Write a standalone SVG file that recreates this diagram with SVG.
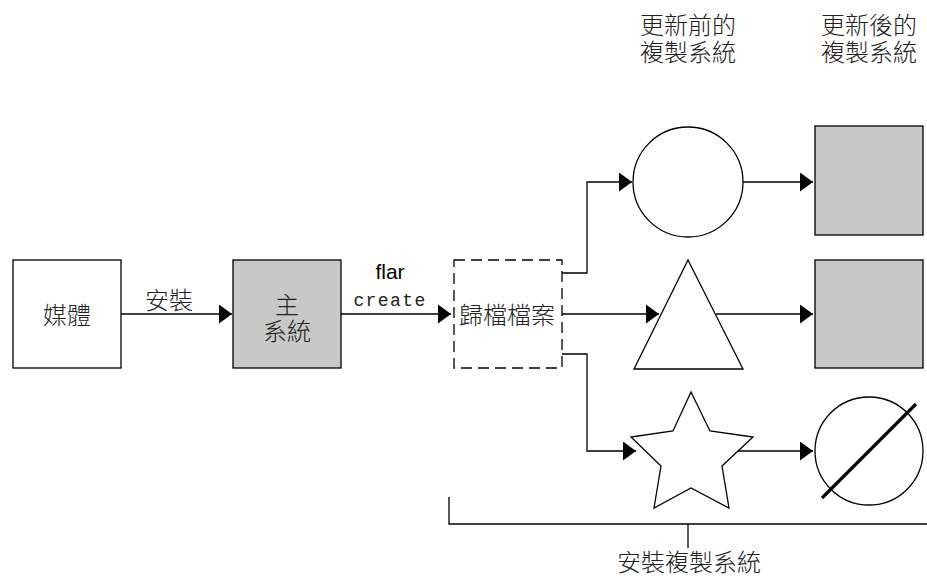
<svg xmlns="http://www.w3.org/2000/svg" width="927" height="576" viewBox="0 0 927 576">
<style>
.s{stroke:#000;stroke-width:1.3;fill:#fff}
.g{fill:#c8c8c8}
.l{stroke:#000;stroke-width:1.3;fill:none}
text{font-family:"Liberation Serif","Noto Sans CJK TC",serif;font-size:24px;font-weight:300;fill:#222;text-anchor:middle}
.flar{font-family:"Liberation Sans",sans-serif;font-size:21px;font-weight:400;fill:#000}
.cmd{font-family:"Liberation Mono",monospace;font-size:18px;letter-spacing:1.4px}
</style>
<defs><marker id="a" markerUnits="userSpaceOnUse" markerWidth="13" markerHeight="19" refX="13" refY="9.5" orient="auto"><path d="M0 0L13 9.5L0 19Z" fill="#000"/></marker></defs>
<g id="connectors">
<path class="l" marker-end="url(#a)" d="M121 314H232"/>
<path class="l" marker-end="url(#a)" d="M341 314H451"/>
<path class="l" marker-end="url(#a)" d="M562 273H587V182H632"/>
<path class="l" marker-end="url(#a)" d="M562 314H659"/>
<path class="l" marker-end="url(#a)" d="M562 354H587V451H636"/>
<path class="l" marker-end="url(#a)" d="M743 182H813"/>
<path class="l" marker-end="url(#a)" d="M716 314H813"/>
<path class="l" marker-end="url(#a)" d="M738 451H813"/>
<path class="l" d="M449 497V524H927M688 524V548"/>
</g>
<g id="media"><rect class="s" x="13" y="260" width="108" height="108"/><text x="67" y="324">媒體</text></g>
<text x="169" y="309">安裝</text>
<g id="master"><rect class="s g" x="233" y="260" width="108" height="108"/><text x="287" y="314">主</text><text x="287" y="340">系統</text></g>
<text class="flar" x="390" y="279">flar</text>
<text class="cmd" x="390" y="306">create</text>
<g id="archive"><rect class="s" x="454" y="260" width="108" height="108" stroke-dasharray="11 6"/><text x="507" y="324">歸檔檔案</text></g>
<g id="before"><text x="688" y="34">更新前的</text><text x="688" y="61">複製系統</text></g>
<g id="after"><text x="869" y="34">更新後的</text><text x="869" y="61">複製系統</text></g>
<g id="circle"><circle class="s" cx="688" cy="182" r="55"/></g>
<g id="triangle"><path class="s" d="M688 260L743 369H634Z"/></g>
<g id="star"><path class="s" d="M691 392L710 431L753 437L722 466L729 508L691 488L654 508L661 466L631 437L673 431Z"/></g>
<g id="g1"><rect class="s g" x="815" y="126" width="108" height="109"/></g>
<g id="g2"><rect class="s g" x="815" y="260" width="108" height="108"/></g>
<g id="none"><circle class="s" cx="869" cy="451" r="54"/><path d="M822 498L916 404" stroke="#000" stroke-width="3.2"/></g>
<text x="689" y="571">安裝複製系統</text>
</svg>
